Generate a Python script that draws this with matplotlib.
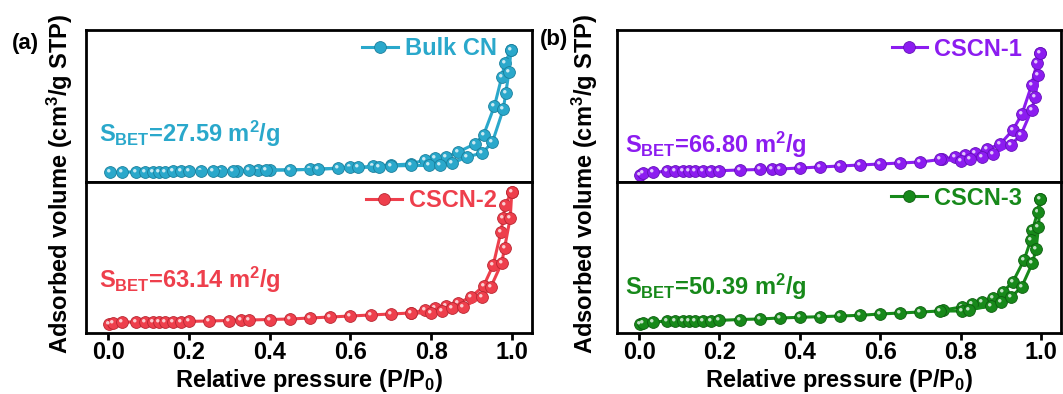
import numpy as np
import matplotlib
matplotlib.use("Agg")
import matplotlib.pyplot as plt
from matplotlib.path import Path

plt.rcParams["font.family"] = ["Liberation Sans", "DejaVu Sans"]
plt.rcParams["font.weight"] = "bold"
plt.rcParams["mathtext.fontset"] = "custom"
plt.rcParams["mathtext.rm"] = "Liberation Sans:bold"
plt.rcParams["mathtext.it"] = "Liberation Sans:bold"
plt.rcParams["mathtext.bf"] = "Liberation Sans:bold"

# ---- data (volume in arbitrary units) ----
x_ticks = [0.0, 0.2, 0.4, 0.6, 0.8, 1.0]

bulk_ads_p = [0.005, 0.035, 0.07, 0.09, 0.11, 0.125, 0.14, 0.16, 0.18, 0.20, 0.26, 0.31,
              0.35, 0.39, 0.45, 0.52, 0.57, 0.62, 0.67, 0.70, 0.75, 0.796, 0.822, 0.851,
              0.888, 0.927, 0.952, 0.979, 0.985, 0.993, 0.998]
bulk_ads_v = [9.5, 10, 10, 10, 10.2, 10.3, 10.4, 10.5, 10.5, 10.6, 11, 11.2,
              11.5, 11.8, 12, 13, 13.5, 14.5, 15, 16, 16.5, 16.5, 17, 18.5,
              25, 29, 40, 73, 89, 110, 132]
bulk_des_p = [0.998, 0.983, 0.975, 0.957, 0.93, 0.908, 0.867, 0.838, 0.809, 0.784, 0.75,
              0.70, 0.656, 0.60, 0.50, 0.40, 0.37, 0.32, 0.28, 0.23]
bulk_des_v = [132, 119, 105, 76, 47, 38, 30, 25, 24, 22, 18,
              17, 15.5, 14.5, 12.5, 12, 11.5, 11, 11, 10.5]

cscn2_ads_p = [0.003, 0.012, 0.035, 0.07, 0.09, 0.11, 0.125, 0.14, 0.16, 0.18, 0.20, 0.25,
               0.30, 0.33, 0.35, 0.40, 0.45, 0.50, 0.55, 0.60, 0.65, 0.70, 0.75, 0.80,
               0.826, 0.851, 0.88, 0.925, 0.948, 0.975, 0.982, 0.996, 1.0]
cscn2_ads_v = [9, 10.5, 11, 11, 11, 11.2, 11.2, 11.3, 11.4, 11.5, 11.6, 12,
               12.5, 13, 13, 13.5, 14, 15, 16, 17, 18, 19, 20, 20,
               22, 25, 26, 36, 46, 70, 85, 115, 141]
cscn2_des_p = [1.0, 0.983, 0.979, 0.973, 0.954, 0.93, 0.899, 0.867, 0.838, 0.809, 0.784, 0.751]
cscn2_des_v = [141, 128, 115, 101, 68, 47, 36, 30, 27, 25, 23, 20]

cscn1_ads_p = [0.003, 0.01, 0.035, 0.07, 0.09, 0.11, 0.125, 0.14, 0.16, 0.18, 0.20, 0.25,
               0.30, 0.33, 0.35, 0.40, 0.45, 0.50, 0.55, 0.60, 0.65, 0.70, 0.75, 0.80,
               0.824, 0.854, 0.88, 0.925, 0.95, 0.977, 0.986, 0.994, 0.998]
cscn1_ads_v = [7, 9, 10, 10.5, 10.5, 10.7, 10.8, 11, 11, 11.2, 11.3, 12,
               12.5, 13, 13, 14, 15, 16, 17, 18, 19, 20, 22.5, 21,
               23, 25, 28, 37, 47, 72, 85, 107, 129]
cscn1_des_p = [0.998, 0.99, 0.977, 0.953, 0.93, 0.899, 0.867, 0.837, 0.812, 0.786, 0.755]
cscn1_des_v = [129, 119, 97, 68, 52, 38, 33, 29, 27, 25, 23]

cscn3_ads_p = [0.003, 0.01, 0.035, 0.07, 0.09, 0.11, 0.125, 0.14, 0.16, 0.18, 0.20, 0.25,
               0.30, 0.35, 0.40, 0.45, 0.50, 0.55, 0.60, 0.65, 0.70, 0.75, 0.803, 0.82,
               0.875, 0.90, 0.926, 0.952, 0.979, 0.988, 0.994, 0.998]
cscn3_ads_v = [9, 10, 11, 12, 12, 12.2, 12.3, 12.4, 12.5, 12.5, 12.6, 13.5,
               14, 15, 15.7, 16.3, 17, 17.7, 19, 20, 21, 22, 22, 23,
               27, 31, 36, 46, 70, 84, 106, 134]
cscn3_des_p = [0.998, 0.992, 0.979, 0.975, 0.958, 0.93, 0.905, 0.882, 0.854, 0.829, 0.803, 0.757]
cscn3_des_v = [134, 121, 103, 93, 73, 51, 41, 35, 31, 29, 26, 23]

names = ["Bulk CN", "CSCN-2", "CSCN-1", "CSCN-3"]
sbet = ["27.59", "63.14", "66.80", "50.39"]
colors = ["#2aa8cb", "#ee3f4c", "#8c1cf0", "#17891a"]
edges = ["#1a7f9c", "#b82631", "#6410b8", "#0e5e10"]

FS = 17
shine = Path.circle(center=(-1, 1), radius=1)


def draw(ax, ads_p, ads_v, des_p, des_v, color, edge, name, s_value, s_y, leg_x, leg_y):
    for p, v in [(des_p, des_v), (ads_p, ads_v)]:
        line, = ax.plot(p, v, "-o", color=color, lw=2.2, ms=8.5,
                        mfc=color, mec=edge, mew=0.6, label=name)
        ax.plot(p, v, ls="none", marker=shine, ms=5, color="white",
                alpha=0.75, mew=0)
    leg = ax.legend(handles=[line], loc="upper right", bbox_to_anchor=(leg_x, leg_y),
                    frameon=False, handlelength=1.5, handletextpad=0.3,
                    borderpad=0, borderaxespad=0, numpoints=1,
                    prop={"size": FS, "weight": "bold"})
    for t in leg.get_texts():
        t.set_color(color)
    ax.text(0.03 if leg_x > 0.915 else 0.018, s_y,
            r"S$_{BET}$=" + s_value + r" m$^{2}$/g",
            transform=ax.transAxes, color=color, fontsize=FS,
            fontweight="bold", va="baseline", ha="left")
    ax.set_xlim(-0.055, 1.05)
    ax.set_yticks([])
    for s in ax.spines.values():
        s.set_linewidth(2)


fig = plt.figure(figsize=(10.63, 3.94), dpi=100)

W, H = 1063, 394
panels = [(86, 532), (617, 1061)]
rows = [(30, 182), (182, 333)]

axes = []
for (x0, x1) in panels:
    col = []
    for (y0, y1) in rows:
        ax = fig.add_axes([x0 / W, 1 - y1 / H, (x1 - x0) / W, (y1 - y0) / H])
        col.append(ax)
    axes.append(col)

data = [
    (axes[0][0], bulk_ads_p, bulk_ads_v, bulk_des_p, bulk_des_v, 0, 0.265, 0.921, 0.955, 152),
    (axes[0][1], cscn2_ads_p, cscn2_ads_v, cscn2_des_p, cscn2_des_v, 1, 0.30, 0.921, 0.955, 151),
    (axes[1][0], cscn1_ads_p, cscn1_ads_v, cscn1_des_p, cscn1_des_v, 2, 0.19, 0.912, 0.95, 152),
    (axes[1][1], cscn3_ads_p, cscn3_ads_v, cscn3_des_p, cscn3_des_v, 3, 0.25, 0.912, 0.97, 151),
]
for ax, ap, av, dp, dv, i, sy, lx, ly, top in data:
    draw(ax, ap, av, dp, dv, colors[i], edges[i], names[i], sbet[i], sy, lx, ly)
    ax.set_ylim(0, top)

for col in axes:
    top_ax, bot_ax = col
    top_ax.set_xticks([])
    bot_ax.set_xticks(x_ticks)
    bot_ax.set_xticklabels([f"{t:.1f}" for t in x_ticks])
    bot_ax.tick_params(axis="x", direction="out", length=5, width=2,
                       labelsize=FS, pad=1)
    pos = bot_ax.get_position()
    fig.text(pos.x0 + pos.width / 2, 1 - 387 / H,
             r"Relative pressure (P/P$_{0}$)", ha="center", va="baseline",
             fontsize=FS, fontweight="bold")

fig.text(60 / W, 0.533, r"Adsorbed volume (cm$^{3}$/g STP)", rotation=90,
         ha="center", va="center", fontsize=FS, fontweight="bold")
fig.text(585 / W, 0.533, r"Adsorbed volume (cm$^{3}$/g STP)", rotation=90,
         ha="center", va="center", fontsize=FS, fontweight="bold")

fig.text(12 / W, 1 - 43 / H, "(a)", ha="left", va="center", fontsize=16, fontweight="bold")
fig.text(540 / W, 1 - 40 / H, "(b)", ha="left", va="center", fontsize=16, fontweight="bold")

fig.savefig("out.png", dpi=100)
